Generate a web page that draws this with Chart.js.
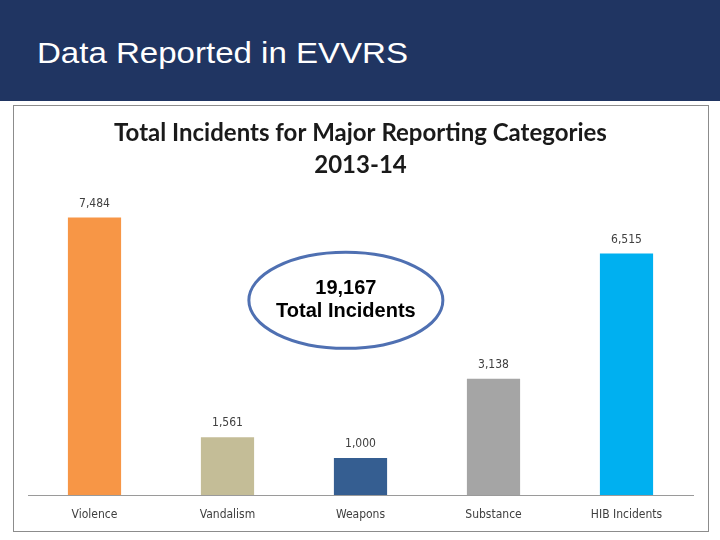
<!DOCTYPE html>
<html><head><meta charset="utf-8">
<script src="https://cdn.jsdelivr.net/npm/chart.js@4"></script>
<style>
html,body{margin:0;padding:0;background:#fff;width:720px;height:540px;overflow:hidden}
#hdr{position:absolute;left:0;top:0;width:720px;height:101px;background:#203562}
#hdr span{position:absolute;left:37px;top:36px;color:#fff;font:30px "Liberation Sans",Arial,sans-serif;line-height:34px;white-space:nowrap;transform-origin:0 50%}
#box{position:absolute;left:13px;top:105px;width:694px;height:425px;border:1px solid #8c8c8c;background:#fff}
#box canvas{display:block}
</style></head><body>
<div id="hdr"><span id="ht">Data Reported in EVVRS</span></div>
<div id="box"><canvas id="c" width="694" height="425"></canvas></div>
<script>
const categories = ["Violence","Vandalism","Weapons","Substance","HIB Incidents"];
const values = [7484,1561,1000,3138,6515];
const valueLabels = ["7,484","1,561","1,000","3,138","6,515"];
const barColors = ["#F79646","#C4BD97","#355E91","#A5A5A5","#00B0F0"];
const titleLines = ["Total Incidents for Major Reporting Categories","2013-14"];
const calloutLines = ["19,167","Total Incidents"];

(function(){
  const ht = document.getElementById('ht');
  const w = ht.getBoundingClientRect().width;
  ht.style.transform = 'scaleX(' + (371 / w) + ')';
})();

const labelPlugin = {
  id:'barLabels',
  afterDatasetsDraw(chart){
    const ctx = chart.ctx;
    const meta = chart.getDatasetMeta(0);
    ctx.save();
    ctx.font = '12px "DejaVu Sans Condensed","Liberation Sans Narrow",sans-serif';
    ctx.fillStyle = '#404040';
    ctx.textAlign = 'center';
    ctx.textBaseline = 'middle';
    meta.data.forEach((bar,i)=>{
      ctx.fillText(valueLabels[i], bar.x, bar.y - 14);
    });
    ctx.restore();
  }
};
const calloutPlugin = {
  id:'callout',
  afterDraw(chart){
    const ctx = chart.ctx, a = chart.chartArea, y = chart.scales.y;
    const cx = a.left + 0.478*(a.right - a.left);
    const cy = y.getPixelForValue(5250);
    ctx.save();
    ctx.beginPath();
    ctx.ellipse(cx, cy, 97, 48, 0, 0, Math.PI*2);
    ctx.lineWidth = 3;
    ctx.strokeStyle = '#4F70B2';
    ctx.stroke();
    ctx.fillStyle = '#000';
    ctx.font = 'bold 20px "Liberation Sans",Arial,sans-serif';
    ctx.textAlign = 'center';
    ctx.textBaseline = 'middle';
    ctx.fillText(calloutLines[0], cx, cy - 12);
    ctx.fillText(calloutLines[1], cx, cy + 11);
    ctx.restore();
  }
};

new Chart(document.getElementById('c'), {
  type:'bar',
  data:{labels:categories, datasets:[{data:values, backgroundColor:barColors, borderWidth:0, barPercentage:0.4, categoryPercentage:1}]},
  options:{
    responsive:false, animation:false,
    layout:{padding:{left:14,right:15,top:0,bottom:0}},
    plugins:{
      legend:{display:false}, tooltip:{enabled:false},
      title:{display:true, text:titleLines, color:'#1a1a1a', font:{family:'Lato, "Open Sans", sans-serif', size:24, weight:'bold', lineHeight:1.3}, padding:{top:12,bottom:18}}
    },
    scales:{
      y:{display:false, min:0, max:8000},
      x:{
        grid:{display:false, drawTicks:false},
        border:{display:true, color:'#9a9a9a', width:1},
        ticks:{color:'#404040', font:{family:'"DejaVu Sans Condensed","Liberation Sans Narrow",sans-serif', size:12}, padding:13},
        afterFit(s){ s.height = 36; }
      }
    }
  },
  plugins:[labelPlugin, calloutPlugin]
});
</script>
</body></html>
